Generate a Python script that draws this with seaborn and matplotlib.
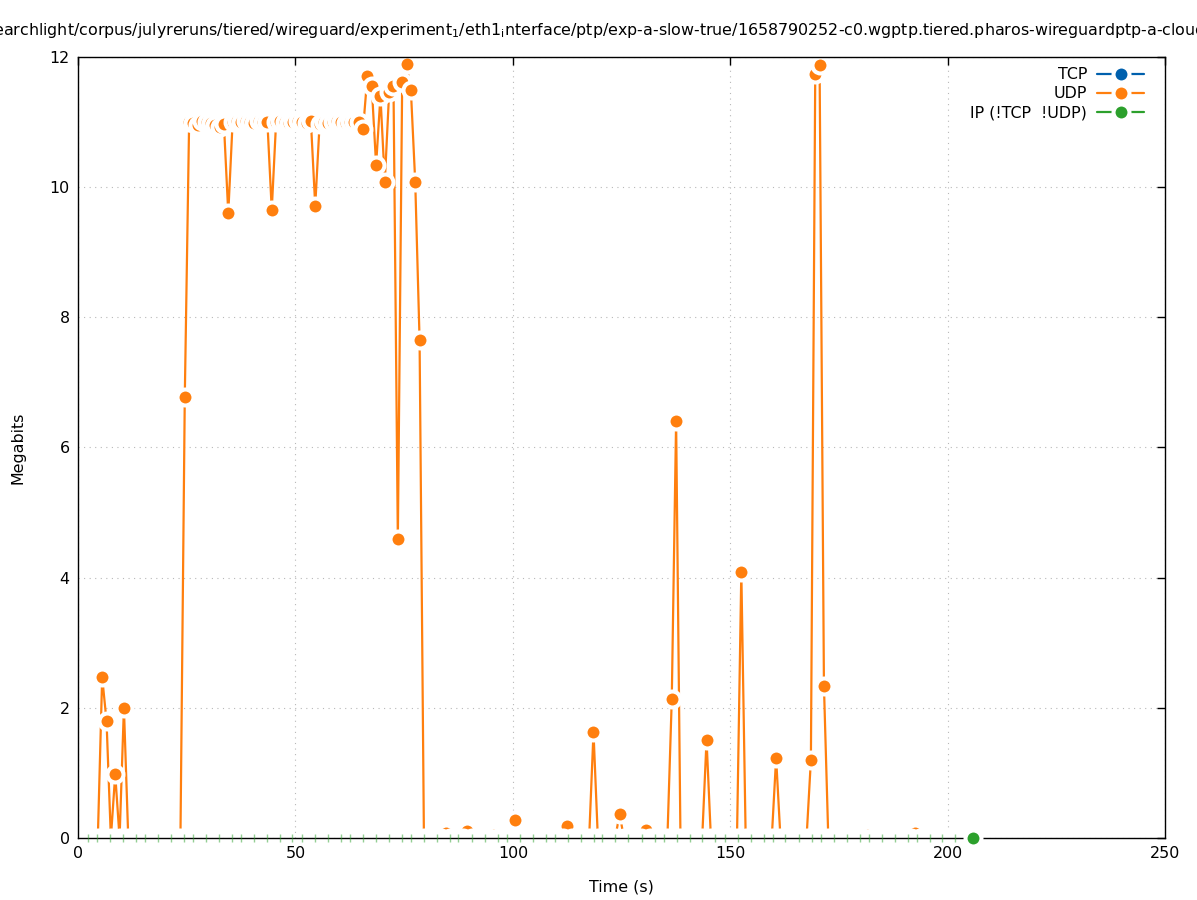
import matplotlib
matplotlib.use("Agg")
import matplotlib.pyplot as plt
from matplotlib.lines import Line2D
import numpy as np
import seaborn as sns

# UDP throughput, one sample per second (Megabits)
udp_mbits = [
    0, 0, 0, 0, 0, 2.47, 1.80, 0, 0.98, 0,                                # 0-9
    2.00, 0, 0, 0, 0, 0, 0, 0, 0, 0,                                      # 10-19
    0, 0, 0, 0, 6.78, 11.00, 10.98, 10.96, 11.01, 11.00,                  # 20-29
    10.99, 10.95, 10.93, 10.97, 9.60, 11.00, 11.01, 11.00, 11.02, 11.00,  # 30-39
    10.99, 11.02, 11.00, 11.00, 9.65, 11.00, 11.01, 11.00, 10.99, 11.00,  # 40-49
    11.01, 11.00, 10.99, 11.02, 9.71, 10.97, 11.00, 10.99, 11.00, 11.01,  # 50-59
    11.00, 10.99, 11.00, 11.00, 11.00, 10.89, 11.71, 11.55, 10.34, 11.40, # 60-69
    10.08, 11.46, 11.55, 4.59, 11.62, 11.89, 11.49, 10.08, 7.65, 0,       # 70-79
    0, 0, 0, 0, 0.08, 0, 0, 0, 0, 0.10,                                   # 80-89
    0, 0, 0, 0, 0, 0.05, 0, 0, 0, 0,                                      # 90-99
    0.28, 0, 0, 0, 0, 0, 0, 0, 0, 0,                                      # 100-109
    0, 0, 0.18, 0, 0, 0, 0, 0, 1.63, 0,                                   # 110-119
    0, 0, 0, 0, 0.37, 0, 0, 0, 0, 0,                                      # 120-129
    0.13, 0, 0, 0, 0, 0, 2.13, 6.41, 0, 0,                                # 130-139
    0, 0, 0, 0, 1.51, 0, 0, 0, 0, 0,                                      # 140-149
    0, 0, 4.09, 0, 0, 0, 0, 0, 0, 0,                                      # 150-159
    1.23, 0, 0, 0, 0, 0, 0, 0, 1.20, 11.74,                               # 160-169
    11.88, 2.34, 0, 0, 0, 0, 0, 0, 0, 0,                                  # 170-179
    0, 0.05, 0, 0, 0, 0, 0, 0, 0, 0,                                      # 180-189
    0, 0, 0.08, 0, 0, 0, 0, 0, 0, 0,                                      # 190-199
    0, 0, 0, 0, 0, 0,                                                     # 200-205
]
udp_time = np.arange(len(udp_mbits)) + 0.55

# IP (!TCP !UDP) samples, all at zero
ip_time = [2.2, 4.3, 7.4, 10.3, 13.3, 15.3, 18.3, 21.4, 24.4, 26.4, 29.4, 32.4,
           35.4, 37.4, 40.4, 43.4, 46.4, 49.3, 51.4, 54.4, 57.4, 60.4, 62.5,
           65.5, 68.5, 71.5, 74.4, 76.5, 79.6, 82.5, 85.5, 87.5, 90.5, 93.5,
           96.5, 98.6, 101.6, 104.6, 107.6, 109.6, 112.6, 115.6, 118.6, 120.6,
           123.6, 126.6, 129.6, 132.6, 134.7, 137.7, 140.7, 143.6, 146.6,
           148.7, 151.7, 154.7, 157.7, 159.8, 162.7, 165.7, 168.7, 170.8,
           173.8, 176.8, 179.8, 181.8, 184.8, 187.8, 190.8, 192.9, 195.9,
           198.8, 201.8, 205.9]
ip_mbits = [0.0] * len(ip_time)

# TCP: no samples in this capture
tcp_time = []
tcp_mbits = []

title = (r"searchlight/corpus/julyreruns/tiered/wireguard/experiment${}_1$"
         r"/eth1${}_\mathregular{i}$nterface/ptp/exp-a-slow-true/1658790252-c0."
         r"wgptp.tiered.pharos-wireguardptp-a-cloudlab")

BLUE = "#0060ad"
ORANGE = "#ff7f0e"
GREEN = "#2ca02c"
MS, MEW = 11.5, 2.9
FS = 11.4

sns.set_style("white")
plt.rcParams["font.family"] = ["DejaVu Sans"]
plt.rcParams["font.size"] = FS
plt.rcParams["text.color"] = "black"
plt.rcParams["axes.labelcolor"] = "black"

fig = plt.figure(figsize=(11.97, 9), dpi=100)
ax = fig.add_axes([0.0652, 0.0689, 0.9081, 0.8678])

udp = np.array(udp_mbits)
nonzero = list(np.flatnonzero(udp > 0))
zero = udp == 0

sns.lineplot(x=udp_time, y=udp, ax=ax, color=ORANGE, lw=1.6, marker="o",
             ms=MS, mfc=ORANGE, mec="white", mew=MEW, markevery=nonzero,
             estimator=None, sort=False, zorder=3)
# white gaps around zero samples
ax.plot(udp_time[zero], udp[zero], "o", ms=MS + MEW, mfc="white",
        mec="none", zorder=3.1)

# IP series: small ticks on the axis, last sample as full dot
ax.plot(ip_time[:-1], ip_mbits[:-1], "|", ms=6, mew=1, color=GREEN,
        alpha=0.5, clip_on=False, zorder=6)
ax.plot(ip_time[-1:], ip_mbits[-1:], "o", ms=MS, mfc=GREEN, mec="white",
        mew=MEW, clip_on=False, zorder=6)
if tcp_time:
    sns.lineplot(x=tcp_time, y=tcp_mbits, ax=ax, color=BLUE, zorder=3)

ax.set_xlim(0, 250)
ax.set_ylim(0, 12)
ax.set_xticks(range(0, 251, 50))
ax.set_yticks(range(0, 13, 2))
ax.set_axisbelow(True)
ax.grid(True, ls=(0, (1, 4)), color="#b8b8b8", lw=0.8)
ax.tick_params(direction="in", top=True, right=True, length=6, width=1,
               colors="black", labelsize=FS, pad=6)
for s in ax.spines.values():
    s.set_color("black")
    s.set_linewidth(1)
    s.set_zorder(5)

ax.set_xlabel("Time (s)", fontsize=FS, labelpad=13)
ax.set_ylabel("Megabits", fontsize=FS, labelpad=17)

handles = [
    Line2D([], [], color=c, lw=1.6, marker="o", ms=MS, mfc=c, mec="white",
           mew=MEW)
    for c in (BLUE, ORANGE, GREEN)
]
ax.legend(handles, ["TCP", "UDP", "IP (!TCP  !UDP)"], loc="upper right",
          bbox_to_anchor=(0.994, 1.005), frameon=False, markerfirst=False,
          handlelength=3.0, labelspacing=0.25, handletextpad=0.6,
          fontsize=FS)

fig.text(-15 / 1197, 1 - 30 / 900, title, ha="left", va="center",
         fontsize=FS, color="black")

fig.savefig("out.png", dpi=100)
